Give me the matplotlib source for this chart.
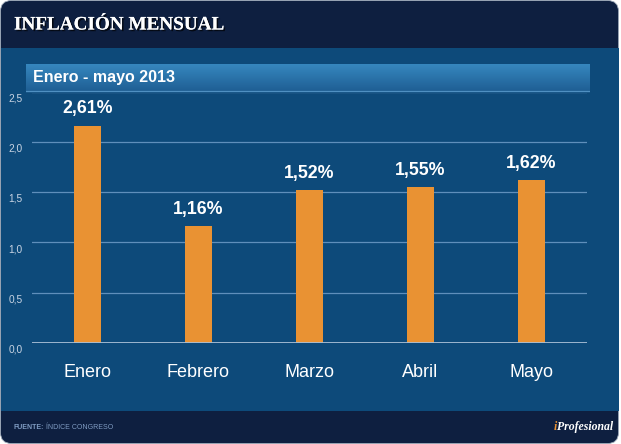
import numpy as np
import matplotlib
matplotlib.use("Agg")
import matplotlib.pyplot as plt
from matplotlib.patches import FancyBboxPatch, Rectangle
from matplotlib import patheffects as pe
from matplotlib.transforms import ScaledTranslation

# ---- data ----
months = ["Enero", "Febrero", "Marzo", "Abril", "Mayo"]
bar_values = [2.16, 1.16, 1.52, 1.55, 1.62]
value_labels = ["2,61%", "1,16%", "1,52%", "1,55%", "1,62%"]
yticks = [0.0, 0.5, 1.0, 1.5, 2.0, 2.5]
ytick_labels = ["0,0", "0,5", "1,0", "1,5", "2,0", "2,5"]
title = "INFLACIÓN MENSUAL"
subtitle = "Enero - mayo 2013"
source_bold = "FUENTE:"
source_rest = " ÍNDICE CONGRESO"

# ---- colours ----
NAVY = "#0e1f40"
BLUE = "#0d4a7a"
ORANGE = "#e99233"
GRID = "#5f8fbb"
BASE = "#a9bfd6"

W, H = 621, 444
fig = plt.figure(figsize=(W / 100, H / 100), dpi=100)
fig.patch.set_facecolor("white")

# background drawing axes in pixel coordinates (y downward)
bg = fig.add_axes([0, 0, 1, 1], zorder=-5)
bg.set_xlim(0, W)
bg.set_ylim(H, 0)
bg.axis("off")
bg.add_patch(FancyBboxPatch((0.5, 0.5), 618, 443, boxstyle="round,pad=0,rounding_size=11",
                            facecolor=NAVY, edgecolor="#9aa6b6", lw=0.6))
bg.add_patch(Rectangle((0.5, 48), 618, 363, facecolor=BLUE, edgecolor="none"))

bg.text(14, 25, title, family="Liberation Serif", weight="bold", fontsize=13.8,
        color="white", va="center", ha="left",
        path_effects=[pe.withSimplePatchShadow(offset=(1.2, -1.2), shadow_rgbFace="black", alpha=0.7),
                      pe.Normal()])

t1 = bg.text(14, 427, source_bold, family="Liberation Sans", weight="bold", fontsize=5,
             color="#7f9bc2", va="center", ha="left")
bg.annotate(source_rest, xy=(1, 0), xycoords=t1, va="bottom", ha="left",
            family="Liberation Sans", fontsize=5, color="#7f9bc2")

t2 = bg.text(613, 430, "Profesional", family="Liberation Serif", weight="bold", style="italic",
             fontsize=8.5, color="white", va="baseline", ha="right")
bg.annotate("i", xy=(0, 0), xycoords=t2, va="bottom", ha="right",
            family="Liberation Serif", weight="bold", style="italic",
            fontsize=8.5, color=ORANGE)

# main chart axes
x0, x1 = 32, 587
ybot, ytop = 342.7, 91.7
ax = fig.add_axes([x0 / W, (H - ybot) / H, (x1 - x0) / W, (ybot - ytop) / H], zorder=1)
ax.set_facecolor("none")
x = np.arange(len(months))
ax.bar(x, bar_values, width=0.245, color=ORANGE, zorder=3)
ax.set_xlim(-0.5, len(months) - 0.5)
ax.set_ylim(0, 2.5)
for s in ax.spines.values():
    s.set_visible(False)
ax.set_yticks(yticks)
ax.set_yticklabels(ytick_labels)
ax.yaxis.grid(True, color=GRID, lw=0.9, zorder=1)
ax.set_axisbelow(True)
ax.axhline(0, color=BASE, lw=2, zorder=4)
ax.tick_params(axis="y", length=0, pad=7, labelsize=7.3, labelcolor="#c9d5e4")
ax.tick_params(axis="x", length=0, pad=15.5, labelsize=13, labelcolor="white")
ax.set_xticks(x)
ax.set_xticklabels(months)
for lab in ax.get_xticklabels() + ax.get_yticklabels():
    lab.set_family("Liberation Sans")
off = ScaledTranslation(0, -5.8 / 100, fig.dpi_scale_trans)
for lab in ax.get_yticklabels():
    lab.set_transform(lab.get_transform() + off)

for xi, v, lab in zip(x, bar_values, value_labels):
    ax.annotate(lab, xy=(xi, v), xytext=(0, 9.0), textcoords="offset points",
                ha="center", va="baseline", family="Liberation Sans", weight="bold",
                fontsize=12.8, color="white")

# subtitle band with vertical gradient
sx0, sx1, sy0, sy1 = 26, 590, 64, 93
sub = fig.add_axes([sx0 / W, (H - sy1) / H, (sx1 - sx0) / W, (sy1 - sy0) / H], zorder=3)
top = np.array([0x36, 0x87, 0xbf]) / 255
bot = np.array([0x1d, 0x5c, 0x91]) / 255
t = np.linspace(0, 1, 64)[:, None]
grad = (top[None, :] * (1 - t) + bot[None, :] * t)[:, None, :]
sub.imshow(grad, aspect="auto", extent=(0, 1, 0, 1), origin="upper")
sub.axhline(0.08, color="#4f90c2", lw=1)
sub.axhspan(0, 0.06, color=BLUE)
sub.set_xlim(0, 1)
sub.set_ylim(0, 1)
sub.axis("off")
sub.text(7 / (sx1 - sx0), 0.55, subtitle, transform=sub.transAxes, family="Liberation Sans",
         weight="bold", fontsize=11.5, color="white", va="center", ha="left")

fig.savefig("out.png", dpi=100, facecolor="white")
